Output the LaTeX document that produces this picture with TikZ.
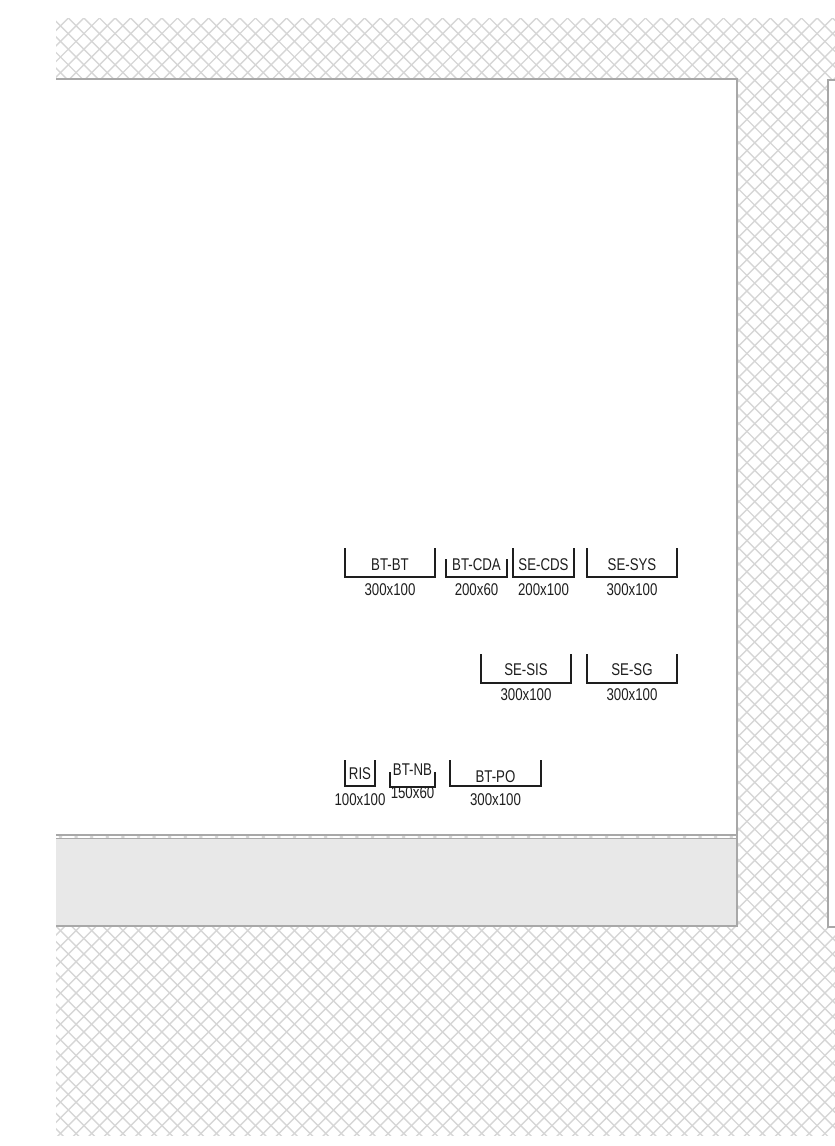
\documentclass[tikz,border=0pt]{standalone}
\usepackage{fontspec}
\setmainfont{Liberation Sans}[FakeStretch=0.78]
\usepackage{xcolor}
\definecolor{hatchgray}{HTML}{D6D6D6}
\definecolor{framegray}{HTML}{A8A8A8}
\definecolor{barfill}{HTML}{E8E8E8}
\definecolor{inkgray}{HTML}{1E1E1E}

\begin{document}
\begin{tikzpicture}[
  x=1pt, y=-1pt,
  hatch/.style={draw=hatchgray, line width=1.4pt},
  frame/.style={draw=framegray, line width=2.2pt},
  slot/.style={draw=inkgray, line width=1.4pt},
  tag/.style={font=\fontsize{17}{17}\selectfont, text=inkgray, inner sep=0pt}
]
\useasboundingbox (0,0) rectangle (835,1146);

% crosshatched backdrop
\begin{scope}
  \clip (56,18) rectangle (835,1135);
  \foreach \k in {-72,...,56} {
    \draw[hatch] ({68.3+\k*15.6},18) -- ++(1120,1120);
  }
  \foreach \k in {-2,...,126} {
    \draw[hatch] ({68.3+\k*15.6},18) -- ++(-1120,1120);
  }
\end{scope}

% main panel with its bottom bar
\fill[white] (56,79) rectangle (737,835);
\fill[barfill] (56,839) rectangle (737,926);
\draw[frame] (56,79) -- (737,79) -- (737,926) -- (56,926);
\draw[frame] (56,835) -- (737,835);
\draw[frame, line width=1.2pt] (56,838.5) -- (737,838.5);

% right panel
\fill[white] (828,80) rectangle (836,927);
\draw[frame] (837,80) -- (828,80) -- (828,927) -- (837,927);

% slots: name/left/bottom/width/height/label y/size y/label/size
\foreach \n/\x/\y/\w/\h/\ly/\sy/\t/\s in {
  btbt/345/577/90/29/565/590/BT-BT/300x100,
  btcda/446/577/61/18/565/590/BT-CDA/200x60,
  secds/513/577/61/29/565/590/SE-CDS/200x100,
  sesys/587/577/90/29/565/590/SE-SYS/300x100,
  sesis/481/683/90/29/670/695/SE-SIS/300x100,
  sesg/587/683/90/29/670/695/SE-SG/300x100,
  ris/345/786/30/26/774/800/RIS/100x100,
  btnb/390/787/45/15/770/793/BT-NB/150x60,
  btpo/450/786/91/26/777/800/BT-PO/300x100} {
  \draw[slot] ({\x},{\y-\h}) -- ({\x},{\y}) -- ({\x+\w},{\y}) -- ({\x+\w},{\y-\h});
  \node[tag] (\n) at ({\x+\w/2},{\ly}) {\t};
  \node[tag] (\n-size) at ({\x+\w/2},{\sy}) {\s};
}
\end{tikzpicture}
\end{document}
